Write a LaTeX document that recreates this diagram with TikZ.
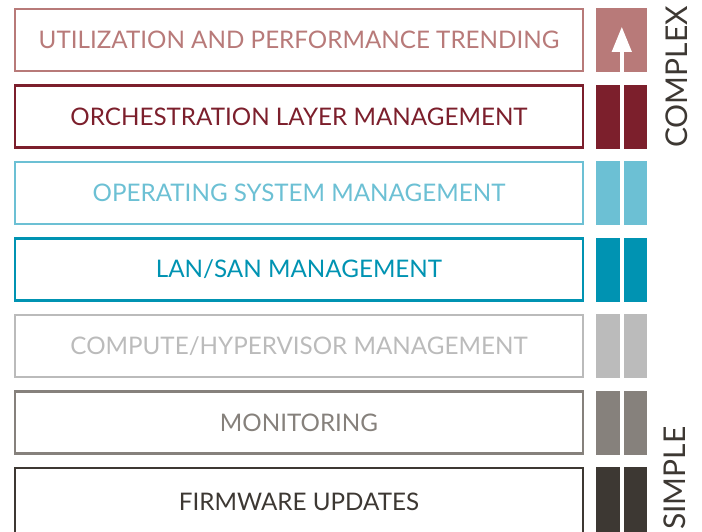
\documentclass[tikz,border=0pt]{standalone}
\usepackage{fontspec}
\setmainfont{Lato}
\usetikzlibrary{positioning}
\usetikzlibrary{arrows.meta}
\definecolor{trendc}{HTML}{B87A79}
\definecolor{orchc}{HTML}{7C1F2C}
\definecolor{osc}{HTML}{6CC0D4}
\definecolor{lanc}{HTML}{0093B2}
\definecolor{computec}{HTML}{BBBBBB}
\definecolor{monc}{HTML}{86817C}
\definecolor{firmc}{HTML}{3D3833}
\tikzset{
  layer/.style={draw=#1, text=#1, line width=2.2pt, minimum width=568pt, minimum height=62pt, inner sep=0pt, font=\fontsize{24.2}{24.2}\selectfont},
  bar/.style={fill=#1, minimum width=23.5pt, minimum height=64pt, inner sep=0pt},
  side/.style={rotate=90, text=firmc, inner sep=0pt, font=\fontsize{30}{30}\selectfont}
}

\begin{document}
\begin{tikzpicture}[x=1pt,y=-1pt]
    \useasboundingbox (0,0) rectangle (702,531);
    \clip (0,0) rectangle (702,531);

    \node[layer=trendc] (trend) at (299,40) {UTILIZATION AND PERFORMANCE TRENDING};
    \node[layer=orchc] (orch) at (299,116.5) {ORCHESTRATION LAYER MANAGEMENT};
    \node[layer=osc] (os) at (299,193) {OPERATING SYSTEM MANAGEMENT};
    \node[layer=lanc] (lan) at (299,269.5) {LAN/SAN MANAGEMENT};
    \node[layer=computec] (compute) at (299,346) {COMPUTE/HYPERVISOR MANAGEMENT};
    \node[layer=monc] (mon) at (299,422.5) {MONITORING};
    \node[layer=firmc, minimum height=68pt] (firm) at (299,502) {FIRMWARE UPDATES};

    % bars on the right
    \node[bar=trendc, minimum width=51pt, right=12pt of trend] (trend bar) {};
    \foreach \n/\c/\h in {orch/orchc/64, os/osc/64, lan/lanc/64, compute/computec/64, mon/monc/64, firm/firmc/70} {
      \node[bar=\c, minimum height=\h pt, right=12pt of \n] (\n L) {};
      \node[bar=\c, minimum height=\h pt, right=3.5pt of \n L] (\n R) {};
    }

    \coordinate (arrow tail) at (trend bar.south);
    \coordinate (arrow tip) at ([yshift=-19pt]trend bar.north);
    \draw[white, line width=4pt, -{Triangle[width=19pt,length=25pt]}] (arrow tail) -- (arrow tip);

    \node[side] (complex) at (676.5,77) {COMPLEX};
    \node[side, anchor=west] (simple) at (675,530) {SIMPLE};
  \end{tikzpicture}
\end{document}
